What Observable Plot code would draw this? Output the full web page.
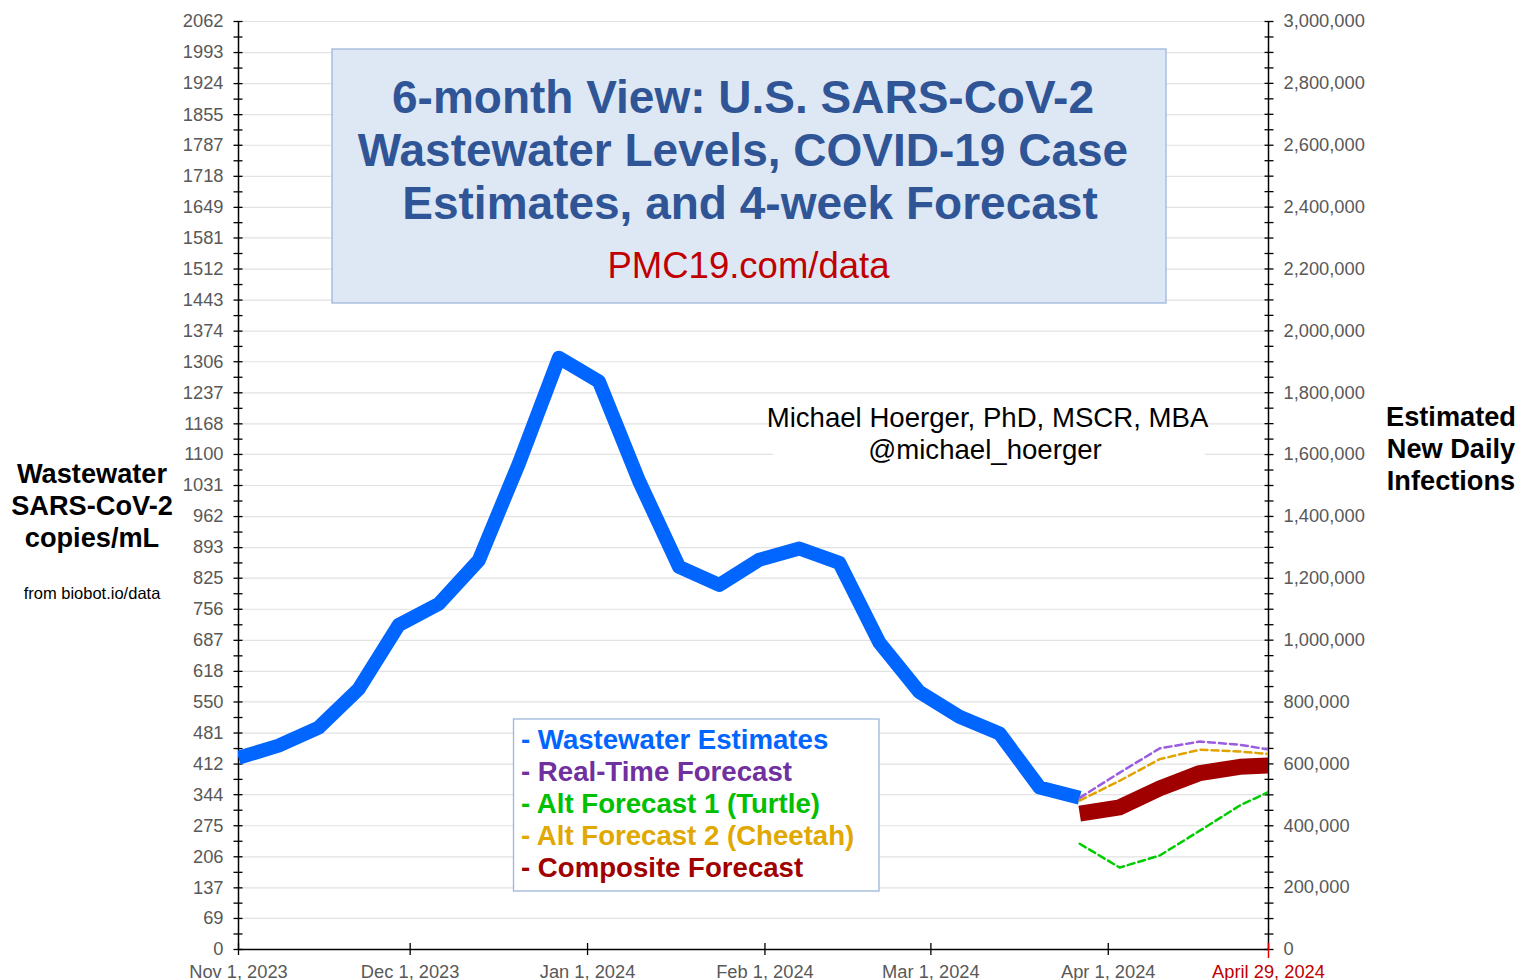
<!DOCTYPE html>
<html>
<head>
<meta charset="utf-8">
<script src="https://cdn.jsdelivr.net/npm/d3@7"></script>
<script src="https://cdn.jsdelivr.net/npm/@observablehq/plot@0.6"></script>
<style>
  html, body { margin: 0; padding: 0; background: #fff; }
  #wrap { position: relative; width: 1522px; height: 980px; font-family: "Liberation Sans", Arial, sans-serif; }
  #wrap > svg { position: absolute; left: 0; top: 0; }
  #overlay { pointer-events: none; }
</style>
</head>
<body>
<div id="wrap"></div>
<script>
// ---------- data ----------
const leftMax = 2062;
const rightMax = 3000000;
const leftTickLabels = [0, 69, 137, 206, 275, 344, 412, 481, 550, 618, 687, 756, 825, 893, 962, 1031, 1100, 1168, 1237, 1306, 1374, 1443, 1512, 1581, 1649, 1718, 1787, 1855, 1924, 1993, 2062];
const rightTickLabels = [0, 200000, 400000, 600000, 800000, 1000000, 1200000, 1400000, 1600000, 1800000, 2000000, 2200000, 2400000, 2600000, 2800000, 3000000];
const xStart = "2023-11-01";
const xEnd = "2024-04-29";
const xTickDates = ["2023-11-01", "2023-12-01", "2024-01-01", "2024-02-01", "2024-03-01", "2024-04-01"];
const xTickLabels = ["Nov 1, 2023", "Dec 1, 2023", "Jan 1, 2024", "Feb 1, 2024", "Mar 1, 2024", "Apr 1, 2024"];
const endTickLabel = "April 29, 2024";

const wastewaterDates = ["2023-11-01", "2023-11-08", "2023-11-15", "2023-11-22", "2023-11-29", "2023-12-06", "2023-12-13", "2023-12-20", "2023-12-27", "2024-01-03", "2024-01-10", "2024-01-17", "2024-01-24", "2024-01-31", "2024-02-07", "2024-02-14", "2024-02-21", "2024-02-28", "2024-03-06", "2024-03-13", "2024-03-20", "2024-03-27"];
const wastewaterValues = [426, 453, 493, 579, 721, 768, 865, 1080, 1315, 1262, 1041, 850, 810, 866, 891, 859, 682, 572, 517, 480, 360, 337];

const forecastDates = ["2024-03-27", "2024-04-03", "2024-04-10", "2024-04-17", "2024-04-24", "2024-05-01"];
const realTimeForecast = [337, 393, 447, 462, 455, 440];
const turtleForecast = [235, 182, 209, 264, 320, 362];
const cheetahForecast = [331, 375, 423, 444, 440, 432];
const compositeForecast = [302, 316, 358, 392, 406, 410];

// ---------- build ----------
const toDate = s => new Date(s + "T00:00:00Z");
const table = (dates, values) => dates.map((d, i) => ({date: toDate(d), value: values[i]}));
const ww = table(wastewaterDates, wastewaterValues);
const rt = table(forecastDates, realTimeForecast);
const tu = table(forecastDates, turtleForecast);
const ch = table(forecastDates, cheetahForecast);
const co = table(forecastDates, compositeForecast);

const toLeft = v => v * leftMax / rightMax;
const leftMinor = leftTickLabels.concat(d3.pairs(leftTickLabels).map(([a, b]) => (a + b) / 2));
const rightMinor = d3.range(0, rightMax + 1, 50000).map(toLeft);
const xLabelMap = new Map(xTickDates.map((d, i) => [+toDate(d), xTickLabels[i]]));
const gray = "#595959";

const chart = Plot.plot({
  width: 1522,
  height: 980,
  marginLeft: 238,
  marginRight: 254,
  marginTop: 21,
  marginBottom: 31,
  style: {fontFamily: "'Liberation Sans', Arial, sans-serif", fontSize: "18px", background: "transparent", overflow: "visible"},
  x: {type: "utc", domain: [toDate(xStart), toDate(xEnd)]},
  y: {domain: [0, leftMax]},
  marks: [
    Plot.gridY(leftTickLabels, {stroke: "#e2e2e2", strokeOpacity: 1, strokeWidth: 1.2}),
    // axis lines
    Plot.ruleX([toDate(xStart)], {stroke: "#000", strokeWidth: 1.5}),
    Plot.ruleX([toDate(xEnd)], {stroke: "#000", strokeWidth: 1.5}),
    Plot.ruleY([0], {stroke: "#000", strokeWidth: 1.5}),
    // left axis
    Plot.axisY(leftMinor, {anchor: "left", tickSize: 9, dx: 4.5, fill: "none", stroke: "#000", strokeWidth: 1.3, label: null}),
    Plot.axisY(leftTickLabels, {anchor: "left", tickSize: 0, tickPadding: 15, fill: gray, fontSize: 18.3, tickFormat: d => String(d), label: null}),
    // right axis
    Plot.axisY(rightMinor, {anchor: "right", tickSize: 9, dx: -4.5, fill: "none", stroke: "#000", strokeWidth: 1.3, label: null}),
    Plot.axisY(rightTickLabels.map(toLeft), {anchor: "right", tickSize: 0, tickPadding: 15, fill: gray, fontSize: 18.3, tickFormat: d => d3.format(",")(Math.round(d * rightMax / leftMax / 1000) * 1000), label: null}),
    // x axis
    Plot.axisX(xTickDates.map(toDate), {anchor: "bottom", tickSize: 12, dy: -6, fill: "none", stroke: "#000", strokeWidth: 1.3, label: null}),
    Plot.axisX(xTickDates.map(toDate), {anchor: "bottom", tickSize: 0, tickPadding: 15, fill: gray, fontSize: 18.3, tickFormat: d => xLabelMap.get(+d), label: null}),
    Plot.axisX([toDate(xEnd)], {anchor: "bottom", tickSize: 15, dy: -6, fill: "none", stroke: "#e00000", strokeWidth: 1.5, label: null}),
    Plot.axisX([toDate(xEnd)], {anchor: "bottom", tickSize: 0, tickPadding: 15, fill: "#c00000", fontSize: 18.3, tickFormat: () => endTickLabel, label: null}),
    // series
    Plot.line(ww, {x: "date", y: "value", stroke: "#0066ff", strokeWidth: 14, strokeLinejoin: "round", strokeLinecap: "butt", clip: true}),
    Plot.line(co, {x: "date", y: "value", stroke: "#a00000", strokeWidth: 16, strokeLinejoin: "round", strokeLinecap: "butt", clip: true}),
    Plot.line(tu, {x: "date", y: "value", stroke: "#00cc00", strokeWidth: 2.5, strokeDasharray: "7,4", clip: true}),
    Plot.line(ch, {x: "date", y: "value", stroke: "#e0a300", strokeWidth: 2.5, strokeDasharray: "7,4", clip: true}),
    Plot.line(rt, {x: "date", y: "value", stroke: "#9b5de0", strokeWidth: 2.5, strokeDasharray: "7,4", clip: true})
  ]
});

const wrap = document.getElementById("wrap");
wrap.appendChild(chart);

// ---------- overlay text ----------
const NS = "http://www.w3.org/2000/svg";
const ov = document.createElementNS(NS, "svg");
ov.setAttribute("id", "overlay");
ov.setAttribute("width", 1522);
ov.setAttribute("height", 980);
ov.setAttribute("font-family", "'Liberation Sans', Arial, sans-serif");
wrap.appendChild(ov);

function rect(x, y, w, h, fill, stroke) {
  const r = document.createElementNS(NS, "rect");
  r.setAttribute("x", x); r.setAttribute("y", y);
  r.setAttribute("width", w); r.setAttribute("height", h);
  r.setAttribute("fill", fill);
  if (stroke) { r.setAttribute("stroke", stroke); r.setAttribute("stroke-width", 1.3); }
  ov.appendChild(r);
}
function text(str, x, y, size, color, weight, anchor) {
  const t = document.createElementNS(NS, "text");
  t.setAttribute("x", x); t.setAttribute("y", y);
  t.setAttribute("font-size", size);
  t.setAttribute("fill", color);
  t.setAttribute("font-weight", weight || "normal");
  t.setAttribute("text-anchor", anchor || "middle");
  t.textContent = str;
  ov.appendChild(t);
}

// title box
rect(332, 49, 834, 254, "#dee8f4", "#9db6dc");
const titleColor = "#2f5597";
text("6-month View: U.S. SARS-CoV-2", 743, 113, 46, titleColor, "bold");
text("Wastewater Levels, COVID-19 Case", 743, 165.5, 46, titleColor, "bold");
text("Estimates, and 4-week Forecast", 750, 219, 46, titleColor, "bold");
text("PMC19.com/data", 748.5, 278, 36.5, "#c00000", "normal");

// author
rect(773, 402, 432, 68, "#ffffff");
text("Michael Hoerger, PhD, MSCR, MBA", 987.5, 427, 27.6, "#000", "normal");
text("@michael_hoerger", 985, 459, 27.6, "#000", "normal");

// left axis title
text("Wastewater", 92, 483, 27.2, "#000", "bold");
text("SARS-CoV-2", 92, 515, 27.2, "#000", "bold");
text("copies/mL", 92, 547, 27.2, "#000", "bold");
text("from biobot.io/data", 92, 599, 16.5, "#000", "normal");

// right axis title
text("Estimated", 1451, 426, 27.2, "#000", "bold");
text("New Daily", 1451, 458, 27.2, "#000", "bold");
text("Infections", 1451, 490, 27.2, "#000", "bold");

// legend
rect(513.5, 719, 365.5, 172, "#ffffff", "#9db6dc");
const legendItems = [
  ["- Wastewater Estimates", "#0066ff"],
  ["- Real-Time Forecast", "#7030a0"],
  ["- Alt Forecast 1 (Turtle)", "#00c000"],
  ["- Alt Forecast 2 (Cheetah)", "#e0a800"],
  ["- Composite Forecast", "#a00000"]
];
legendItems.forEach(([s, c], i) => text(s, 521, 749 + i * 32, 27.6, c, "bold", "start"));
</script>
</body>
</html>
